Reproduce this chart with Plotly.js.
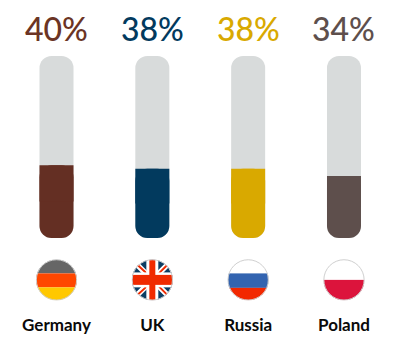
<!DOCTYPE html>
<html><head><meta charset="utf-8">
<script src="https://cdn.plot.ly/plotly-3.0.1.min.js"></script>
<style>html,body{margin:0;padding:0;background:#fff}#c{width:416px;height:356px}</style>
</head><body><div id="c"></div>
<script>
const countries = ["Germany", "UK", "Russia", "Poland"];
const values = [40, 38, 38, 34];
const fillColors = ["#642f23", "#023a5e", "#d9a900", "#5e4f4c"];
const labelColors = ["#6b3424", "#023a5e", "#d9a900", "#5e4f4c"];
const trackColor = "#d8dbdb";
const scaleMax = 100;

const flagBodies = {
  Germany: '<rect x="0" y="0" width="41" height="14" fill="#666666"/><rect x="0" y="14" width="41" height="14" fill="#ff4700"/><rect x="0" y="28" width="41" height="13" fill="#ffc800"/>',
  UK: '<rect width="41" height="41" fill="#0b3d63"/>' +
      '<path d="M0 0 L41 41 M41 0 L0 41" stroke="#fff" stroke-width="5.5"/>' +
      '<path d="M3 3 L15 14 M38 3 L27 14 M3 38 L15 27 M38 38 L27 27" stroke="#f02a00" stroke-width="2"/>' +
      '<rect x="14.5" y="0" width="12" height="41" fill="#fff"/><rect x="0" y="13" width="41" height="15" fill="#fff"/>' +
      '<rect x="17.5" y="0" width="6" height="41" fill="#f02a00"/><rect x="0" y="15.5" width="41" height="10" fill="#f02a00"/>',
  Russia: '<rect width="41" height="14" fill="#ffffff"/><rect y="14" width="41" height="14.5" fill="#3364b0"/><rect y="28.5" width="41" height="12.5" fill="#f22800"/>',
  Poland: '<rect width="41" height="20.5" fill="#ffffff"/><rect y="20.5" width="41" height="20.5" fill="#dc143c"/>'
};
function flagUri(name) {
  const svg = '<svg xmlns="http://www.w3.org/2000/svg" width="42" height="42" viewBox="-0.5 -0.5 42 42">' +
    '<defs><clipPath id="k"><circle cx="20.5" cy="20.5" r="20.5"/></clipPath></defs>' +
    '<g clip-path="url(#k)">' + flagBodies[name] + '</g>' +
    '<circle cx="20.5" cy="20.5" r="20.2" fill="none" stroke="#cfcfcf" stroke-width="1"/></svg>';
  return 'data:image/svg+xml;base64,' + btoa(svg);
}

const idx = countries.map((_, i) => i);
const pxPerStep = 95.83, firstCenter = 56.5, W = 416, plotH = 182.5;
const barWidth = 34 / pxPerStep;

const track = {
  type: "bar", x: idx, base: idx.map(() => 0), y: idx.map(() => scaleMax),
  width: barWidth, marker: { color: trackColor, cornerradius: 12, line: { width: 0 } },
  hoverinfo: "skip"
};
const fillRounded = {
  type: "bar", x: idx, base: idx.map(() => 0), y: values,
  width: barWidth, marker: { color: fillColors, cornerradius: 12, line: { width: 0 } },
  hoverinfo: "skip"
};
const fillFlatTop = {
  type: "bar", x: idx, base: values.map(v => v / 2), y: values.map(v => v / 2),
  width: barWidth, marker: { color: fillColors, line: { width: 0 } },
  hoverinfo: "skip"
};

const layout = {
  width: 416, height: 356, paper_bgcolor: "#fff", plot_bgcolor: "#fff",
  margin: { l: 0, r: 0, t: 55.5, b: 118, pad: 0 },
  barmode: "overlay", showlegend: false,
  xaxis: {
    range: [-firstCenter / pxPerStep, (W - firstCenter) / pxPerStep],
    tickvals: idx, ticktext: countries, ticks: "",
    ticklabelstandoff: 75, showgrid: false, zeroline: false, showline: false,
    tickfont: { family: "Lato", size: 17, color: "#0a0a0a", weight: 700 }
  },
  yaxis: { range: [0, scaleMax], visible: false, fixedrange: true },
  annotations: countries.map((c, i) => ({
    x: i, y: scaleMax, xref: "x", yref: "y", yanchor: "bottom", xanchor: "center",
    yshift: 6, showarrow: false, text: values[i] + "%",
    font: { family: "Lato", size: 32, color: labelColors[i], weight: 500 }
  })),
  images: countries.map((c, i) => ({
    source: flagUri(c), xref: "paper", yref: "paper",
    x: (firstCenter + i * pxPerStep) / W, y: -42 / plotH,
    sizex: 42 / W, sizey: 42 / plotH, xanchor: "center", yanchor: "middle",
    sizing: "contain", layer: "above"
  }))
};
Plotly.newPlot("c", [track, fillRounded, fillFlatTop], layout, { displayModeBar: false, staticPlot: true });
</script></body></html>
